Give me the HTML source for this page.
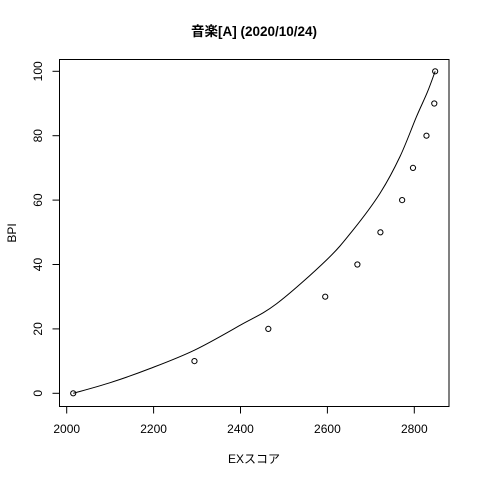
<!DOCTYPE html>
<html><head><meta charset="utf-8"><style>
body{margin:0;background:#fff}
svg text{font-family:"Liberation Sans","Noto Sans CJK JP",sans-serif;fill:#000}
</style></head><body>
<svg width="480" height="480" viewBox="0 0 480 480">
<g id="root"></g>
</svg>
<script>
const xTicks=[2000,2200,2400,2600,2800];
const yTicks=[0,20,40,60,80,100];
const ptX=[2015,2294,2464,2595,2669,2722,2772,2797,2828,2846,2848];
const ptY=[0,10,20,30,40,50,60,70,80,90,100];
const curveX=[2015,2100,2192,2294,2400,2483,2598,2659,2721,2767,2805,2830,2848];
const curveY=[0,3.3,7.7,13.4,21.2,27.8,41.4,50.7,62.1,73.5,85.9,93.5,100];
const NS='http://www.w3.org/2000/svg';
const root=document.getElementById('root');
const L=59.5,R=449,T=59.5,B=406.5;
const sx=v=>66.7+(v-2000)*(414.3-66.7)/800;
const sy=v=>393.3-(v)*(393.3-71.3)/100;
function mk(t,a,p){const e=document.createElementNS(NS,t);for(const k in a)e.setAttribute(k,a[k]);(p||root).appendChild(e);return e;}
const box=mk('rect',{x:L,y:T,width:R-L,height:B-T,fill:'none',stroke:'#000','stroke-width':1});


const xa=mk('g',{});


mk('line',{x1:sx(xTicks[0]),x2:sx(xTicks[xTicks.length-1]),y1:B,y2:B,stroke:'#000'},xa);
xTicks.forEach(v=>{mk('line',{x1:sx(v),x2:sx(v),y1:B,y2:B+7,stroke:'#000'},xa);
const t=mk('text',{x:sx(v),y:433,'text-anchor':'middle','font-size':12},xa);t.textContent=v;

});
const ya=mk('g',{});


mk('line',{x1:L,x2:L,y1:sy(0),y2:sy(100),stroke:'#000'},ya);
yTicks.forEach(v=>{mk('line',{x1:L,x2:L-7,y1:sy(v),y2:sy(v),stroke:'#000'},ya);
const t=mk('text',{x:42,y:sy(v),'text-anchor':'middle','font-size':12,transform:`rotate(-90 42 ${sy(v)})`},ya);t.textContent=v;

});
const P=curveX.map((x,i)=>[sx(x),sy(curveY[i])]);
let d='M'+P[0][0]+','+P[0][1];
for(let i=0;i<P.length-1;i++){const p0=P[Math.max(0,i-1)],p1=P[i],p2=P[i+1],p3=P[Math.min(P.length-1,i+2)];
d+=` C${p1[0]+(p2[0]-p0[0])/6},${p1[1]+(p2[1]-p0[1])/6} ${p2[0]-(p3[0]-p1[0])/6},${p2[1]-(p3[1]-p1[1])/6} ${p2[0]},${p2[1]}`;}
const c=mk('path',{d:d,fill:'none',stroke:'#000','stroke-width':1});


ptX.forEach((x,i)=>{const p=mk('circle',{cx:sx(x),cy:sy(ptY[i]),r:2.6,fill:'none',stroke:'#000','stroke-width':1});

});
const ti=mk('text',{x:254,y:36,'text-anchor':'middle','font-size':13.5,'font-weight':'bold'});ti.textContent='音楽[A] (2020/10/24)';


const xl=mk('text',{x:254,y:463,'text-anchor':'middle','font-size':12});xl.textContent='EXスコア';


const yl=mk('text',{x:16,y:233,'text-anchor':'middle','font-size':12,transform:'rotate(-90 16 233)'});yl.textContent='BPI';


</script>
</body></html>
